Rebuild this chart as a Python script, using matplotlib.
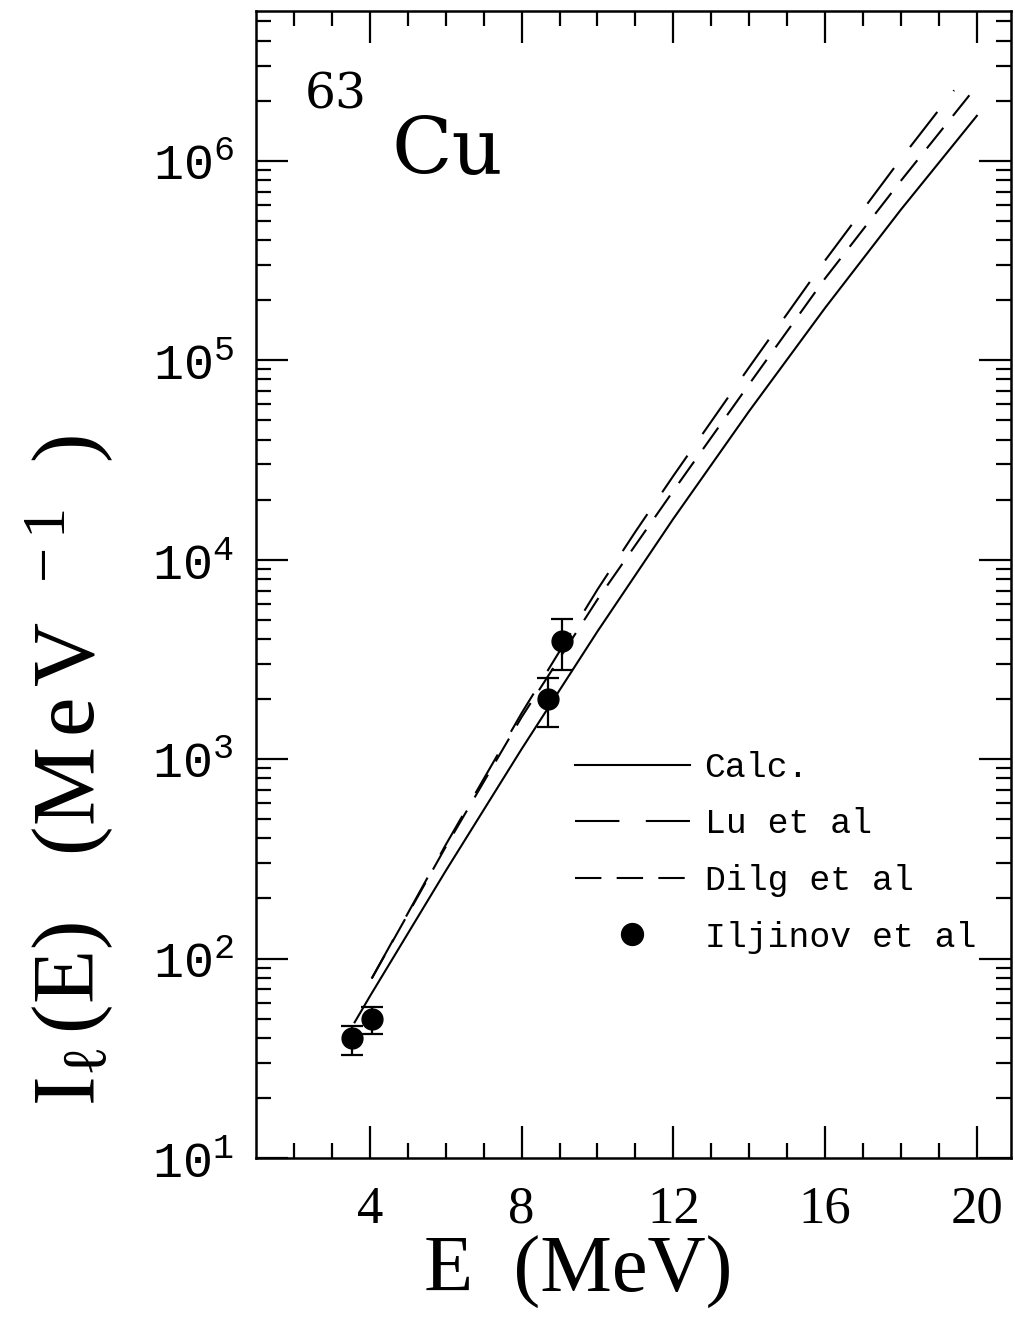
import numpy as np
import matplotlib
matplotlib.use('Agg')
import matplotlib.pyplot as plt
from matplotlib.ticker import FixedLocator, LogLocator, NullFormatter

plt.rcParams['mathtext.fontset'] = 'custom'
plt.rcParams['mathtext.rm'] = 'Liberation Serif'
plt.rcParams['mathtext.it'] = 'Liberation Serif:italic'
plt.rcParams['mathtext.tt'] = 'Liberation Mono'
plt.rcParams['lines.scale_dashes'] = False

# Calc. (solid)
E_calc = [3.6, 4, 6, 8, 10, 12, 14, 16, 18, 20]
I_calc = [47.9, 64.6, 275, 1122, 4365, 16030, 55590, 1.828e5, 5.69e5, 1.679e6]

# Lu et al
E_lu = [4.05, 6, 8, 9, 10, 11, 12, 14, 16, 18, 19.4]
I_lu = [79.4, 371.5, 1698, 3467, 7079, 13800, 26300, 92260, 3.162e5, 1.023e6, 2.254e6]

# Dilg et al
E_dilg = [4.05, 6, 8, 10, 12, 14, 16, 18, 20]
I_dilg = [79.4, 363, 1622, 6310, 22130, 75860, 2.57e5, 7.94e5, 2.37e6]

# Iljinov et al
E_ilj = [3.53, 4.06, 8.70, 9.07]
I_ilj = [40, 50, 2000, 3920]
I_ilj_lo = [33, 42, 1450, 2800]
I_ilj_hi = [46, 57, 2550, 5050]

xticks = [4, 8, 12, 16, 20]
ydecades = [1, 2, 3, 4, 5, 6]

fig = plt.figure(figsize=(10.15, 13.19), dpi=100)
ax = fig.add_axes([256/1015, 1-1158/1319, 755/1015, (1158-10.7)/1319])

ax.plot(E_calc, I_calc, '-', color='black', lw=1.5, label='Calc.')
ax.plot(E_lu, I_lu, color='black', lw=1.5, dashes=(32, 19), label='Lu et al')
ax.plot(E_dilg, I_dilg, color='black', lw=1.5, dashes=(19, 11), label='Dilg et al')

yerr = [np.array(I_ilj) - np.array(I_ilj_lo), np.array(I_ilj_hi) - np.array(I_ilj)]
ax.errorbar(E_ilj, I_ilj, yerr=yerr, fmt='none', ecolor='black', elinewidth=1.6,
            capsize=8, capthick=1.6)
ax.plot(E_ilj, I_ilj, 'o', color='black', ms=15, label='Iljinov et al')

ax.set_yscale('log')
ax.set_xlim(1, 20.9)
ax.set_ylim(10, 10**6.752)

ax.xaxis.set_major_locator(FixedLocator(xticks))
ax.xaxis.set_minor_locator(FixedLocator([v for v in range(2, 21) if v not in xticks]))
ax.set_xticklabels([str(v) for v in xticks], fontfamily='Liberation Serif', fontsize=38)

ax.yaxis.set_major_locator(FixedLocator([10.0**k for k in ydecades]))
ax.yaxis.set_minor_locator(LogLocator(base=10, subs=np.arange(2, 10), numticks=20))
ax.yaxis.set_minor_formatter(NullFormatter())
ax.set_yticklabels([r'$\mathtt{10^{%d}}$' % k for k in ydecades], fontsize=36)

ax.tick_params(which='both', direction='in', top=True, right=True, width=1.6, colors='black')
ax.tick_params(which='major', length=23)
ax.tick_params(which='minor', length=11)
ax.tick_params(axis='x', which='major', pad=20)
ax.tick_params(axis='y', which='major', pad=16)
for s in ax.spines.values():
    s.set_linewidth(1.8)

ax.text(0.064, 0.9265, '63', transform=ax.transAxes, fontfamily='DejaVu Serif',
        fontsize=35, va='center', ha='left')
ax.text(0.18, 0.877, 'Cu', transform=ax.transAxes, fontfamily='DejaVu Serif',
        fontsize=57, va='center', ha='left')

leg = ax.legend(loc='upper left', bbox_to_anchor=(0.4225, 0.355), frameon=False,
                borderpad=0, borderaxespad=0, handlelength=3.3, handletextpad=0.43,
                labelspacing=0.68, numpoints=1, markerscale=1.05,
                prop={'family': 'Liberation Mono', 'size': 25})

fig.text(578/1015, 1-1272/1319, 'E  (MeV)', fontfamily='Liberation Serif', fontsize=58,
         ha='center', va='center')
fig.text(70/1015, 1-770/1319, r'$\mathrm{I_{\ell}\,(E)\ \ \ (M\,e\,V^{\ \ -1}\ \ )}$',
         fontsize=64, rotation=90, ha='center', va='center')

fig.savefig('out.png', dpi=100)
